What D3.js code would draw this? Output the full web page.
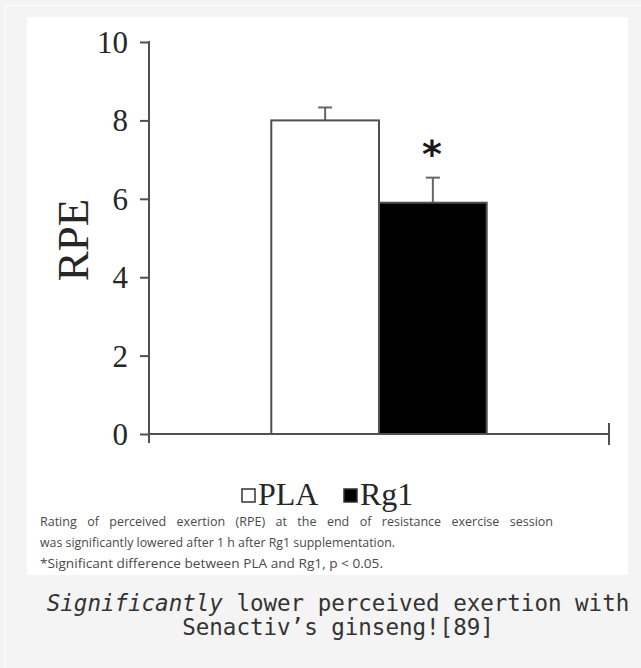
<!DOCTYPE html>
<html>
<head>
<meta charset="utf-8">
<script src="https://cdn.jsdelivr.net/npm/d3@7"></script>
<style>
  html, body { margin: 0; padding: 0; background: #f4f4f4; }
  svg { display: block; }
</style>
</head>
<body>
<div id="chart"></div>
<script>
// data
const groups = ["PLA", "Rg1"];
const means = [8.0, 5.9];
const errTop = [8.33, 6.54];
const fills = ["#ffffff", "#000000"];
const yTicks = [0, 2, 4, 6, 8, 10];
const notes = [
  "Rating of perceived exertion (RPE) at the end of resistance exercise session",
  "was significantly lowered after 1 h after Rg1 supplementation.",
  "*Significant difference between PLA and Rg1, p < 0.05."
];
const noteWidths = [513, 355, 343];

const W = 641, H = 668;
const serif = "'Liberation Serif', 'Times New Roman', serif";
const svg = d3.select("#chart").append("svg")
    .attr("width", W).attr("height", H);

// page frame
svg.append("rect").attr("width", W).attr("height", H).attr("fill", "#f4f4f4");
svg.append("path").attr("d", "M5.5,668 V5.5 H641").attr("fill", "none").attr("stroke", "#ffffff");
svg.append("rect").attr("x", 27).attr("y", 17).attr("width", 601).attr("height", 558).attr("fill", "#ffffff");

const y = d3.scaleLinear().domain([0, 10]).range([434, 42]);
const x = d3.scaleBand().domain(groups).range([149, 609]).paddingInner(0).paddingOuter(1.135);

const axisCol = "#505050";
const g = svg.append("g");

// y axis
const yAxis = g.append("g")
    .attr("transform", "translate(149,0)")
    .call(d3.axisLeft(y).tickValues(yTicks).tickSize(9).tickPadding(12).tickSizeOuter(0));
yAxis.select(".domain").remove();
yAxis.selectAll(".tick line").attr("stroke", axisCol).attr("stroke-width", 2);
yAxis.selectAll(".tick text")
    .attr("font-family", serif)
    .attr("font-size", 31).attr("fill", "#262626").attr("dy", "0.34em");
g.append("line")
    .attr("x1", 149).attr("x2", 149)
    .attr("y1", y(10) - 1).attr("y2", y(0) + 9)
    .attr("stroke", axisCol).attr("stroke-width", 2);

// x axis line with end tick
const xr = x.range();
g.append("line")
    .attr("x1", xr[0]).attr("x2", xr[1])
    .attr("y1", y(0)).attr("y2", y(0))
    .attr("stroke", axisCol).attr("stroke-width", 2);
g.append("line")
    .attr("x1", xr[1]).attr("x2", xr[1])
    .attr("y1", y(0) - 11).attr("y2", y(0) + 11)
    .attr("stroke", axisCol).attr("stroke-width", 2);

// y label
g.append("text")
    .attr("transform", `translate(${88},${240}) rotate(-90)`)
    .attr("text-anchor", "middle")
    .attr("font-family", serif)
    .attr("font-size", 45).attr("fill", "#262626")
    .text("RPE");

// error bars (behind bars)
groups.forEach((k, i) => {
  const cx = x(k) + x.bandwidth() / 2;
  g.append("line").attr("x1", cx).attr("x2", cx)
      .attr("y1", y(means[i])).attr("y2", y(errTop[i]))
      .attr("stroke", "#666").attr("stroke-width", 2);
  g.append("line").attr("x1", cx - 7).attr("x2", cx + 7)
      .attr("y1", y(errTop[i])).attr("y2", y(errTop[i]))
      .attr("stroke", "#666").attr("stroke-width", 2);
});

// bars
g.selectAll("rect.bar").data(groups).join("rect")
    .attr("class", "bar")
    .attr("x", d => x(d))
    .attr("width", x.bandwidth())
    .attr("y", (d, i) => y(means[i]))
    .attr("height", (d, i) => y(0) - y(means[i]))
    .attr("fill", (d, i) => fills[i])
    .attr("stroke", axisCol).attr("stroke-width", 2);

// significance marker
g.append("text")
    .attr("x", x("Rg1") + x.bandwidth() / 2 - 1)
    .attr("y", y(errTop[1]) - 11)
    .attr("text-anchor", "middle")
    .attr("font-family", "'DejaVu Sans', sans-serif")
    .attr("font-weight", "bold")
    .attr("font-size", 38).attr("fill", "#1a1a1a")
    .text("*");

// legend
const legend = g.append("g").attr("transform", "translate(241,495)");
const legendItems = [{ k: groups[0], dx: 0 }, { k: groups[1], dx: 102 }];
legendItems.forEach((it, i) => {
  legend.append("rect")
      .attr("x", it.dx + 1).attr("y", -6).attr("width", 13).attr("height", 13)
      .attr("fill", fills[i]).attr("stroke", "#333").attr("stroke-width", 1.5);
  legend.append("text")
      .attr("x", it.dx + 17).attr("y", 10)
      .attr("font-family", serif)
      .attr("font-size", 32).attr("fill", "#262626")
      .text(it.k);
});

// figure notes (first line is justified in the source)
const noteG = g.append("g").attr("font-family", "'Open Sans', 'Noto Sans', sans-serif")
    .attr("font-size", 12.5).attr("fill", "#4a4a4a");
noteG.selectAll("text").data(notes).join("text")
    .attr("x", 40)
    .attr("y", (d, i) => 526 + i * 21)
    .text(d => d)
    .each(function(d, i) {
      const t = d3.select(this);
      const natural = this.getComputedTextLength();
      if (i === 0) {
        const spaces = d.split(" ").length - 1;
        t.attr("word-spacing", (noteWidths[i] - natural) / spaces);
      } else {
        t.attr("textLength", noteWidths[i]).attr("lengthAdjust", "spacingAndGlyphs");
      }
    });

// caption
const cap = svg.append("text")
    .attr("text-anchor", "middle")
    .attr("font-family", "'DejaVu Sans Mono', monospace")
    .attr("font-size", 22.5).attr("fill", "#333");
const l1 = cap.append("tspan").attr("x", 338).attr("y", 611);
l1.append("tspan").attr("font-style", "italic").text("Significantly");
l1.append("tspan").text(" lower perceived exertion with");
cap.append("tspan").attr("x", 338).attr("y", 635).text("Senactiv\u2019s ginseng![89]");
</script>
</body>
</html>
